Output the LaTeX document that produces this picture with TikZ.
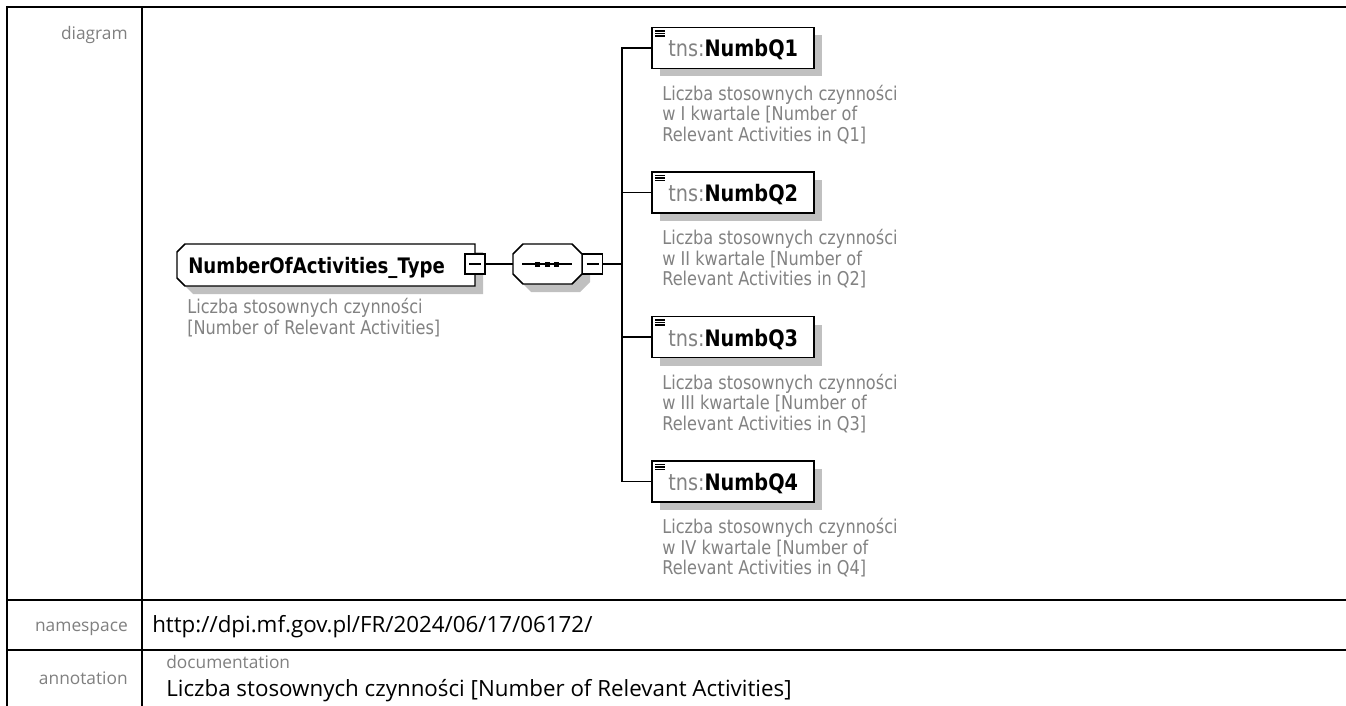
\documentclass[tikz,border=0pt]{standalone}
\usepackage{fontspec}
\setmainfont{Open Sans}
\newfontfamily\dgfont[FakeStretch=0.85]{DejaVu Sans}
\usetikzlibrary{calc,shadows}
\definecolor{lbl}{RGB}{128,128,128}
\definecolor{shd}{RGB}{192,192,192}
\definecolor{dsc}{RGB}{130,130,130}
\newcommand\chamLeft[5]{(#1+#5,#2) -- (#3,#2) -- (#3,#4) -- (#1+#5,#4) -- (#1,#4-#5) -- (#1,#2+#5) -- cycle}
\newcommand\octPath[5]{(#1+#5,#2) -- (#3-#5,#2) -- (#3,#2+#5) -- (#3,#4-#5) -- (#3-#5,#4) -- (#1+#5,#4) -- (#1,#4-#5) -- (#1,#2+#5) -- cycle}
\tikzset{
  tline/.style={line width=1.6pt},
  conn/.style={line width=1.1pt},
  outl/.style={line width=1.1pt, draw=black, fill=white},
  ghost/.style={rectangle, draw=none, inner sep=0pt, outer sep=0pt},
  minusbox/.style={rectangle, draw=black, fill=white, line width=0.9pt, minimum size=15pt, inner sep=0pt, outer sep=0pt,
    path picture={\draw[line width=0.9pt] ([xshift=-4.5pt]path picture bounding box.center) -- ([xshift=4.5pt]path picture bounding box.center);}},
  qbox/.style={rectangle, draw=black, fill=white, line width=1.1pt, minimum width=121.5pt, minimum height=30.75pt, inner sep=0pt, outer sep=0pt,
    drop shadow={shadow xshift=6pt, shadow yshift=-6pt, fill=shd, opacity=1}},
  dtitle/.style={font=\dgfont\bfseries\fontsize{16}{19}\selectfont, inner sep=0pt, anchor=base west},
  qlab/.style={font=\dgfont\fontsize{17}{20}\selectfont, inner sep=0pt, anchor=base west},
  ddesc/.style={font=\dgfont\fontsize{14.25}{15.5}\selectfont, text=dsc, inner sep=0pt, anchor=base west, align=left},
  lbltext/.style={font=\fontsize{13}{15}\selectfont, text=lbl, inner sep=0pt, anchor=base east},
  doclbl/.style={font=\fontsize{13}{15}\selectfont, text=lbl, inner sep=0pt, anchor=base west},
  valtext/.style={font=\fontsize{16.75}{20}\selectfont, inner sep=0pt, anchor=base west},
}
\begin{document}
\begin{tikzpicture}[x=0.75pt,y=-0.75pt]
\useasboundingbox (0,0) rectangle (1346,706);
\fill[white] (0,0) rectangle (1346,706);
% table frame
\draw[tline] (6,7) -- (1346,7);
\draw[tline] (7,6) -- (7,706);
\draw[tline] (142,7) -- (142,706);
\draw[tline] (6,600) -- (1346,600);
\draw[tline] (6,650) -- (1346,650);
\node[lbltext] (ldiag) at (128,40) {diagram};
\node[lbltext] (lns) at (128,631) {namespace};
\node[valtext] (vns) at (152,632) {http://dpi.mf.gov.pl/FR/2024/06/17/06172/};
\node[lbltext] (lann) at (128,684) {annotation};
\node[doclbl] (ldoc) at (166,668) {documentation};
\node[valtext] (vann) at (166,696) {Liczba stosownych czynności [Number of Relevant Activities]};
% main complex type
\fill[shd] \chamLeft{185}{252}{483}{294}{8};
\draw[outl] \chamLeft{177}{244}{475}{286}{8};
\node[dtitle] (main) at (188,273) {NumberOfActivities\_Type};
\node[ddesc] (maind) at (187,334) {Liczba stosownych czynności\\{[}Number of Relevant Activities]};
\node[minusbox] (mainm) at (475,264) {};
% sequence
\fill[shd] \octPath{521}{252}{590}{292}{10};
\draw[outl] \octPath{513}{244}{582}{284}{10};
\node[ghost, minimum width=51.75pt, minimum height=30pt] (seq) at (547.5,264) {};
\draw[conn] (522,264) -- (572,264);
\foreach \sx in {537.5,547,556.5} \fill (\sx-2.5,261.5) rectangle (\sx+2.5,266.5);
\node[minusbox] (seqm) at (592.5,264) {};
\draw[conn] (mainm.east) -- (seq.west);
\coordinate (bus) at (622,264);
% elements
\foreach \i/\rn in {1/I,2/II,3/III,4/IV}{
  \pgfmathsetmacro\cy{48+144.5*(\i-1)}
  \node[qbox] (q\i) at (733,\cy) {};
  \foreach \k in {3.5,6,8.5} \draw[line width=0.9pt] (655,\cy-20.5+\k) -- (665,\cy-20.5+\k);
  \node[qlab] (q\i lab) at (668,\cy+9) {\textcolor{dsc}{tns:}\textbf{NumbQ\i}};
  \node[ddesc] (q\i desc) at (662,\cy+93.4) {Liczba stosownych czynności\\w \rn\ kwartale [Number of\\Relevant Activities in Q\i]};
  \draw[conn] (seqm.east) -- (bus) |- (q\i.west);
}
\end{tikzpicture}
\end{document}
